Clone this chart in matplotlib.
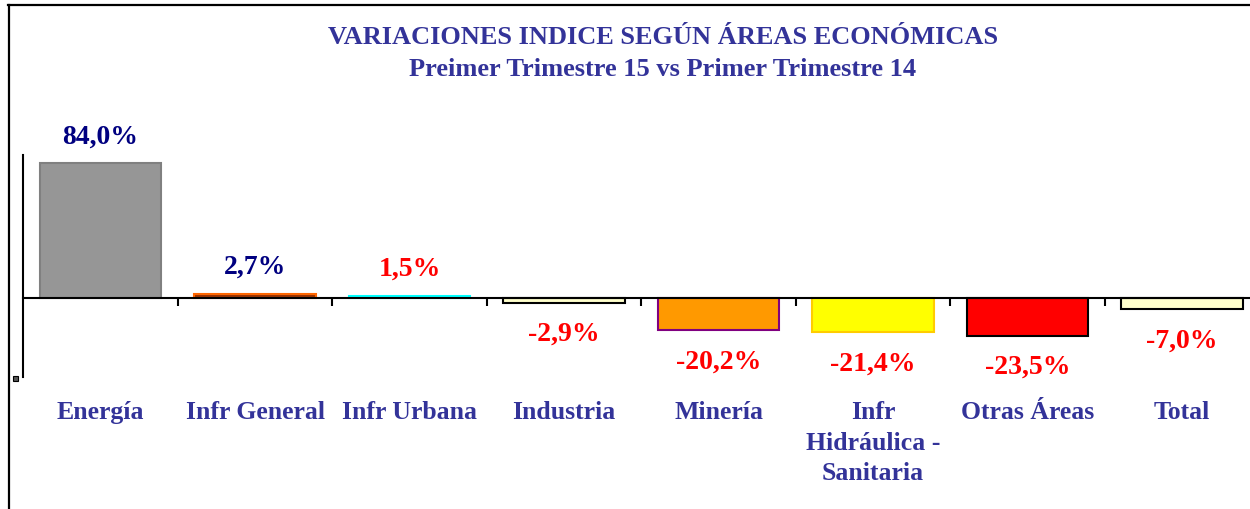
import matplotlib
matplotlib.use("Agg")
import matplotlib.pyplot as plt
from matplotlib.lines import Line2D
from matplotlib.patches import Rectangle
from matplotlib.transforms import blended_transform_factory

# Data
categories = ["Energía", "Infr General", "Infr Urbana", "Industria", "Minería",
              "Infr\nHidráulica -\nSanitaria", "Otras Áreas", "Total"]
values = [84.0, 2.7, 1.5, -2.9, -20.2, -21.4, -23.5, -7.0]
value_labels = ["84,0%", "2,7%", "1,5%", "-2,9%", "-20,2%", "-21,4%", "-23,5%", "-7,0%"]
label_colors = ["#000080", "#000080", "#FF0000", "#FF0000", "#FF0000",
                "#FF0000", "#FF0000", "#FF0000"]
face_colors = ["#969696", "#993300", "#33CCCC", "#FFFFCC", "#FF9900",
               "#FFFF00", "#FF0000", "#FFFFCC"]
edge_colors = ["#808080", "#FF6600", "#00FFFF", "#000000", "#800080",
               "#FFCC00", "#000000", "#000000"]

TITLE = "VARIACIONES INDICE SEGÚN ÁREAS ECONÓMICAS"
SUBTITLE = "Preimer Trimestre 15 vs Primer Trimestre 14"
BLUE = "#333399"

plt.rcParams["font.family"] = ["Liberation Serif", "DejaVu Serif"]

W, H = 1250, 510
fig = plt.figure(figsize=(W / 100, H / 100), dpi=100)

# axes placed in pixel terms
left, right, top, bottom = 23.3, 1250, 156, 378
ax = fig.add_axes([left / W, 1 - bottom / H, (right - left) / W, (bottom - top) / H])

x = range(len(categories))
ax.bar(x, values, width=0.786, color=face_colors, edgecolor=edge_colors,
       linewidth=1.5, zorder=2)

ax.set_xlim(-0.5, 7.44)
ax.set_ylim(-49.2, 89.0)

# spines / ticks
for s in ["top", "right"]:
    ax.spines[s].set_visible(False)
ax.spines["left"].set_linewidth(1.5)
ax.spines["bottom"].set_position(("data", 0))
ax.spines["bottom"].set_linewidth(1.5)
ax.spines["bottom"].set_zorder(3)
ax.set_yticks([])
ax.set_xticks([i + 0.5 for i in range(len(categories) - 1)])
ax.set_xticklabels([])
ax.tick_params(axis="x", direction="out", length=6, width=1.5)

# value labels
for i, (v, lab, c) in enumerate(zip(values, value_labels, label_colors)):
    off = 19.5 if v >= 0 else -22
    ax.annotate(lab, (i, v), xytext=(0, off), textcoords="offset points",
                ha="center", va="center", fontsize=20, fontweight="bold", color=c)

# category labels below the plot
trans = blended_transform_factory(ax.transData, ax.transAxes)
for i, cat in enumerate(categories):
    ax.text(i, -0.105, cat, transform=trans, ha="center", va="top",
            fontsize=18.5, fontweight="bold", color=BLUE, linespacing=1.42)

# titles
fig.text(663 / W, 1 - 37 / H, TITLE, ha="center", va="center",
         fontsize=19, fontweight="bold", color=BLUE)
fig.text(663 / W, 1 - 70 / H, SUBTITLE, ha="center", va="center",
         fontsize=19, fontweight="bold", color=BLUE)

# chart-area border (left and top visible)
fig.add_artist(Line2D([9 / W, 9 / W], [0, 1 - 6 / H], color="black", lw=1.6,
                      transform=fig.transFigure))
fig.add_artist(Line2D([8 / W, 1], [1 - 6 / H, 1 - 6 / H], color="black", lw=1.6,
                      transform=fig.transFigure))
# small handle square
fig.add_artist(Rectangle((13 / W, 1 - 382 / H), 5 / W, 5 / H, facecolor="#555555",
                         edgecolor="black", lw=0.8, transform=fig.transFigure))

fig.savefig("out.png", dpi=100)
